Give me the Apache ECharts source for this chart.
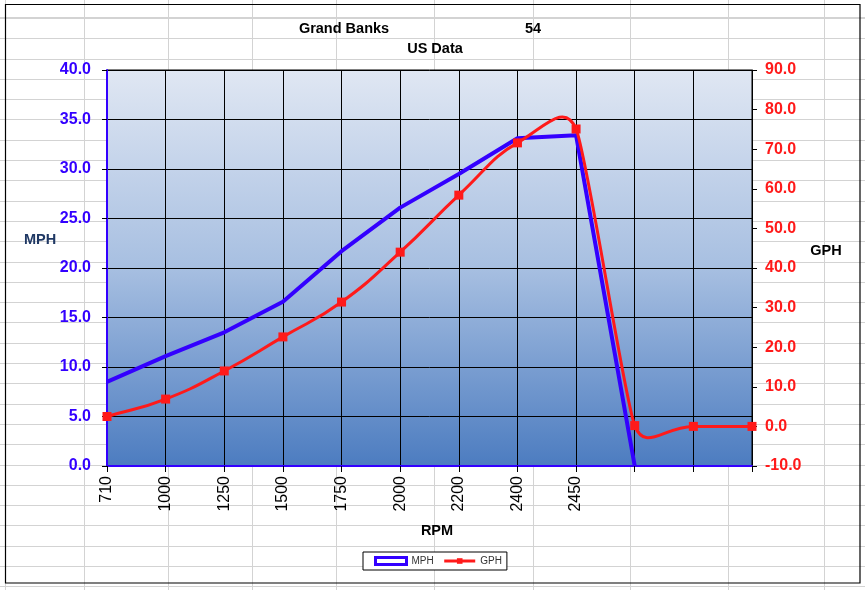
<!DOCTYPE html>
<html>
<head>
<meta charset="utf-8">
<script src="https://cdn.jsdelivr.net/npm/echarts@6/dist/echarts.min.js"></script>
<style>
  html, body { margin: 0; padding: 0; background: #fff; }
  #sheet {
    position: absolute; left: 0; top: 0; width: 865px; height: 590px;
    background-image: repeating-linear-gradient(to bottom, #d3d3d3 0px, #d3d3d3 1px, transparent 1px, transparent 20.3px);
    background-position: 0 18px;
  }
  #chart { position: absolute; left: 0; top: 0; width: 865px; height: 590px; }
</style>
</head>
<body>
<div id="sheet"></div>
<div id="chart"></div>
<script>
// rpm categories (last three are empty columns in the sheet)
const rpm = ["710", "1000", "1250", "1500", "1750", "2000", "2200", "2400", "2450", "", "", ""];
// speed, left axis
const mph = [8.5, 11.1, 13.5, 16.6, 21.7, 26.1, 29.5, 33.1, 33.4, 0, null, null];
// fuel burn, right axis
const gph = [2.5, 6.9, 14.0, 22.6, 31.4, 44.0, 58.4, 71.6, 75.1, 0.2, 0, 0];

const mphTicks = { min: 0, max: 40, step: 5 };
const gphTicks = { min: -10, max: 90, step: 10 };

// spreadsheet column lines behind the chart
const sheetCols = [5, 84, 168, 252, 336, 434, 533, 630, 728, 824];
const sheet = document.getElementById("sheet");
sheetCols.forEach(function (x) {
    const d = document.createElement("div");
    d.style.cssText = "position:absolute;top:0;width:1px;height:590px;background:#d3d3d3;left:" + x + "px";
    sheet.appendChild(d);
});

const BLUE = "#3300ff";
const RED = "#ff1a1a";
const FONT = "'Liberation Sans', Arial, sans-serif";

function txt(x, y, s, size, color) {
    return {
        type: "text", x: x, y: y, z: 10,
        style: {
            text: s, font: "bold " + size + "px " + FONT, fill: color || "#000",
            align: "center", verticalAlign: "middle",
            textAlign: "center", textVerticalAlign: "middle"
        }
    };
}

// excel style smoothed line: tangent from neighbours,
// arm length = half of the shorter segment touching the point
function renderSmooth(params, api) {
    if (params.dataIndex !== 0) return null;
    const pts = gph.map(function (v, i) { return api.coord([i, v]); });
    const n = pts.length;
    const f = 0.5;
    function dist(a, b) { return Math.sqrt(Math.pow(b[0] - a[0], 2) + Math.pow(b[1] - a[1], 2)); }
    function unit(a, b) {
        const l = dist(a, b) || 1;
        return [(b[0] - a[0]) / l, (b[1] - a[1]) / l];
    }
    const tan = [], arm = [];
    for (let i = 0; i < n; i++) {
        const a = pts[Math.max(i - 1, 0)], b = pts[Math.min(i + 1, n - 1)];
        tan.push(unit(a, b));
        const segs = [];
        if (i > 0) segs.push(dist(pts[i - 1], pts[i]));
        if (i < n - 1) segs.push(dist(pts[i], pts[i + 1]));
        arm.push(f * Math.min.apply(null, segs));
    }
    let d = "M" + pts[0][0] + "," + pts[0][1];
    for (let i = 0; i < n - 1; i++) {
        const p1 = pts[i], p2 = pts[i + 1];
        const c1x = p1[0] + tan[i][0] * arm[i], c1y = p1[1] + tan[i][1] * arm[i];
        const c2x = p2[0] - tan[i + 1][0] * arm[i + 1], c2y = p2[1] - tan[i + 1][1] * arm[i + 1];
        d += " C" + c1x + "," + c1y + " " + c2x + "," + c2y + " " + p2[0] + "," + p2[1];
    }
    return {
        type: "path",
        shape: { pathData: d },
        style: { fill: null, stroke: RED, lineWidth: 3, lineJoin: "round" },
        silent: true
    };
}

const chart = echarts.init(document.getElementById("chart"), null, { renderer: "canvas" });

chart.setOption({
    animation: false,
    backgroundColor: "transparent",
    textStyle: { fontFamily: FONT },
    graphic: [
        {
            type: "rect", z: -10,
            shape: { x: 5.5, y: 4.5, width: 854.5, height: 578.5 },
            style: { fill: null, stroke: "#000", lineWidth: 1.2 }
        },
        txt(344, 29, "Grand Banks", 14.5),
        txt(533, 29, "54", 14.5),
        txt(435, 49, "US Data", 14.5),
        txt(40, 240, "MPH", 14.5, "#1f3864"),
        txt(826, 251, "GPH", 14.5),
        txt(437, 531, "RPM", 14.5)
    ],
    grid: {
        left: 107, right: 113, top: 70, bottom: 124,
        show: true,
        borderColor: "#000",
        borderWidth: 1,
        backgroundColor: {
            type: "linear", x: 0, y: 0, x2: 0, y2: 1,
            colorStops: [
                { offset: 0, color: "#e0e7f3" },
                { offset: 0.5, color: "#a7bfe1" },
                { offset: 1, color: "#4c7cc0" }
            ]
        }
    },
    legend: {
        left: 363, top: 552,
        padding: [4, 5, 4, 11],
        itemGap: 9,
        itemWidth: 31, itemHeight: 7,
        backgroundColor: "#fff",
        borderColor: "#000", borderWidth: 1,
        textStyle: { fontSize: 10, color: "#333", fontFamily: FONT },
        data: [
            { name: "MPH", icon: "rect", itemStyle: { color: "#fff", borderColor: BLUE, borderWidth: 3 } },
            { name: "GPH", lineStyle: { color: RED, width: 3, opacity: 1 }, itemStyle: { color: RED, opacity: 1 } }
        ]
    },
    xAxis: {
        type: "category",
        data: rpm,
        boundaryGap: false,
        axisLine: { lineStyle: { color: BLUE, width: 2 } },
        axisTick: { show: true, interval: 0, length: 6, lineStyle: { color: "#000" } },
        axisLabel: { interval: 0, rotate: 90, margin: 10, fontSize: 16, color: "#000", fontFamily: FONT },
        splitLine: { show: true, interval: 0, lineStyle: { color: "#000", width: 1 } }
    },
    yAxis: [
        {
            type: "value",
            min: mphTicks.min, max: mphTicks.max, interval: mphTicks.step,
            axisLine: { show: true, lineStyle: { color: BLUE, width: 2 } },
            axisTick: { show: true, length: 5, lineStyle: { color: "#000" } },
            axisLabel: {
                margin: 16, fontSize: 16, fontWeight: "bold", color: BLUE, fontFamily: FONT,
                formatter: function (v) { return v.toFixed(1); }
            },
            splitLine: { show: true, lineStyle: { color: "#000", width: 1 } }
        },
        {
            type: "value",
            min: gphTicks.min, max: gphTicks.max, interval: gphTicks.step,
            position: "right",
            axisLine: { show: true, lineStyle: { color: "#000", width: 1 } },
            axisTick: { show: true, length: 5, lineStyle: { color: "#000" } },
            axisLabel: {
                margin: 13, fontSize: 16, fontWeight: "bold", color: RED, fontFamily: FONT,
                formatter: function (v) { return v.toFixed(1); }
            },
            splitLine: { show: false }
        }
    ],
    series: [
        {
            name: "MPH",
            type: "line",
            yAxisIndex: 0,
            data: mph,
            symbol: "none",
            lineStyle: { color: BLUE, width: 4 },
            itemStyle: { color: BLUE },
            z: 3
        },
        {
            name: "GPH curve",
            type: "custom",
            yAxisIndex: 1,
            data: gph.map(function (v, i) { return [i, v]; }),
            renderItem: renderSmooth,
            z: 4
        },
        {
            // markers only, the curve comes from the custom series
            name: "GPH",
            type: "line",
            yAxisIndex: 1,
            data: gph,
            symbol: "rect",
            symbolSize: 9,
            lineStyle: { color: RED, width: 3, opacity: 0 },
            itemStyle: { color: RED },
            z: 5
        }
    ]
});
</script>
</body>
</html>
